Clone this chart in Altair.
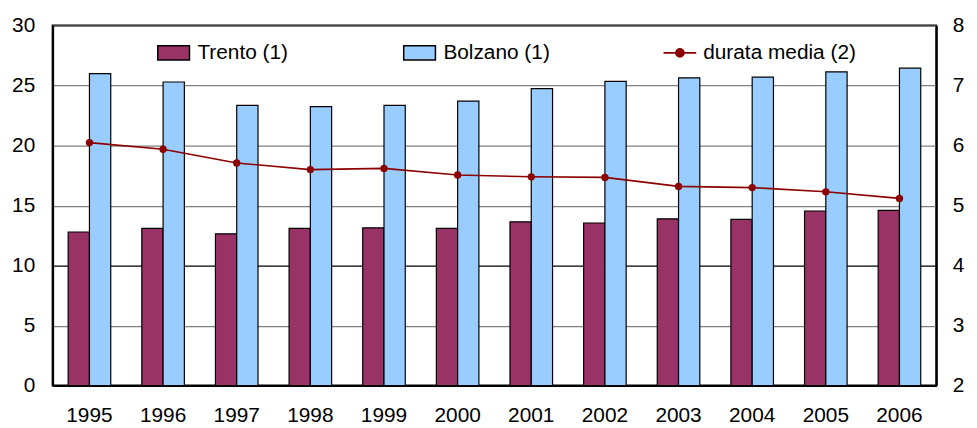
import altair as alt
import pandas as pd

years = ["1995", "1996", "1997", "1998", "1999", "2000",
         "2001", "2002", "2003", "2004", "2005", "2006"]
trento = [12.8, 13.1, 12.65, 13.1, 13.15, 13.1, 13.65, 13.55, 13.9, 13.85, 14.55, 14.6]
bolzano = [26.0, 25.3, 23.35, 23.25, 23.35, 23.7, 24.75, 25.35, 25.65, 25.7, 26.15, 26.45]
durata = [6.05, 5.94, 5.71, 5.60, 5.62, 5.51, 5.48, 5.47, 5.32, 5.30, 5.23, 5.12]
bar_series = ["Trento (1)", "Bolzano (1)"]
line_series = ["durata media (2)"]
left_ticks = [0, 5, 10, 15, 20, 25, 30]
right_ticks = [2, 3, 4, 5, 6, 7, 8]

bars_df = pd.DataFrame({
    "anno": years + years,
    "serie": [bar_series[0]] * len(years) + [bar_series[1]] * len(years),
    "valore": trento + bolzano,
})
line_df = pd.DataFrame({"anno": years, "serie": line_series[0], "valore": durata})

FONT = "Liberation Sans"
FS = 21

x_enc = alt.X(
    "anno:N", sort=years,
    scale=alt.Scale(paddingInner=0, paddingOuter=0),
    axis=alt.Axis(title=None, labelAngle=0, ticks=False, labelPadding=19,
                  domainColor="black", domainWidth=2, grid=False),
)

bars = alt.Chart(bars_df).mark_bar(stroke="black", strokeWidth=1.2).encode(
    x=x_enc,
    xOffset=alt.XOffset("serie:N", sort=bar_series,
                        scale=alt.Scale(domain=bar_series, paddingInner=0, paddingOuter=0.73)),
    y=alt.Y("valore:Q", scale=alt.Scale(domain=[0, 30], nice=False),
            axis=alt.Axis(title=None, values=left_ticks, ticks=False, labelPadding=18,
                          format="d",
                          domainColor="black", domainWidth=2,
                          gridColor={"condition": {"test": "datum.value === 10", "value": "black"},
                                     "value": "#808080"},
                          gridWidth=1.2)),
    fill=alt.Fill("serie:N", sort=bar_series,
                  scale=alt.Scale(domain=bar_series, range=["#993366", "#99CCFF"]),
                  legend=alt.Legend(title=None, orient="none", direction="horizontal",
                                    columns=2, legendX=105, legendY=10, padding=0,
                                    columnPadding=113,
                                    symbolType="M-1,-0.45H1V0.45H-1Z", symbolSize=1024,
                                    symbolStrokeColor="black", symbolStrokeWidth=1.5,
                                    labelOffset=7)),
)

y_right = alt.Y("valore:Q", scale=alt.Scale(domain=[2, 8], nice=False),
                axis=alt.Axis(title=None, orient="right", values=right_ticks, ticks=False,
                              format="d",
                              labelPadding=16, grid=False, domainColor="black", domainWidth=2))

line = alt.Chart(line_df).mark_line(strokeWidth=1.6).encode(
    x=alt.X("anno:N", sort=years),
    y=y_right,
    stroke=alt.Stroke("serie:N",
                      scale=alt.Scale(domain=line_series, range=["#8B0000"]),
                      legend=alt.Legend(title=None, orient="none", legendX=615, legendY=10,
                                        padding=0,
                                        symbolType="M-1,0H1M0.25,0A0.25,0.25,0,1,1,-0.25,0A0.25,0.25,0,1,1,0.25,0Z",
                                        symbolSize=1089, symbolStrokeWidth=1.6,
                                        symbolFillColor="#8B0000", labelOffset=6)),
)

points = alt.Chart(line_df).mark_point(filled=True, size=55, color="#8B0000", opacity=1).encode(
    x=alt.X("anno:N", sort=years),
    y=alt.Y("valore:Q", scale=alt.Scale(domain=[2, 8], nice=False)),
)

chart = alt.layer(bars, alt.layer(line, points)).resolve_scale(
    y="independent"
).properties(
    width=891, height=363,
    autosize=alt.AutoSizeParams(type="none"),
    padding={"left": 45, "top": 16, "right": 33, "bottom": 41},
).configure(
    font=FONT,
).configure_axis(
    labelFont=FONT, labelFontSize=FS, labelColor="black",
).configure_legend(
    labelFont=FONT, labelFontSize=FS, labelColor="black",
).configure_view(
    stroke="black", strokeWidth=2,
)

chart.save("out.html", embed_options={"renderer": "svg", "actions": False})
